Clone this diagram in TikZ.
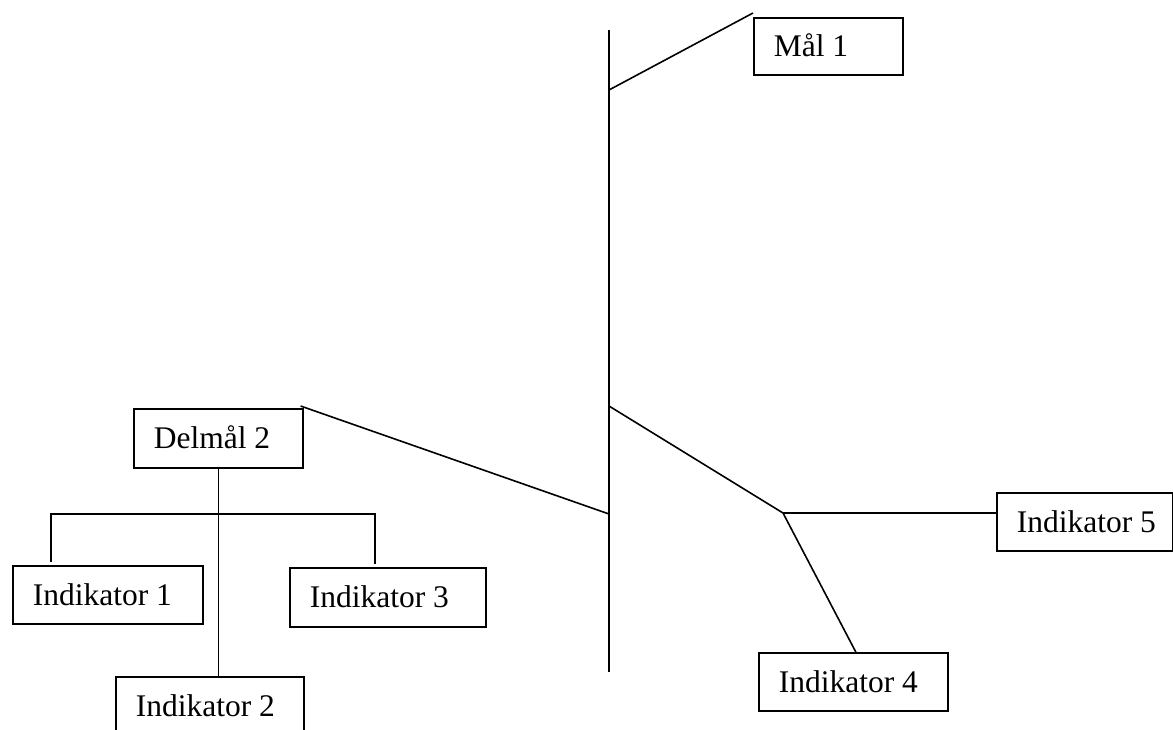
\documentclass[tikz,border=0pt]{standalone}
\usepackage{fontspec}
\setmainfont{Liberation Serif}
% left-set label of a fixed width inside a box
\newcommand\lbltext[2]{\makebox[#1][l]{#2}}
\tikzset{
  lbl/.style={draw, line width=1.6pt, anchor=north west,
    inner xsep=20pt, inner ysep=0pt, text height=21pt, text depth=0pt,
    font=\fontsize{31.5}{36}\selectfont},
  link/.style={line width=1.6pt}
}
\begin{document}
\begin{tikzpicture}[x=1pt,y=-1pt]
\useasboundingbox (0,0) rectangle (1173,729);

% boxes
\node[lbl, minimum height=57pt] (mal)    at (753,17)  {\lbltext{109pt}{Mål 1}};
\node[lbl, minimum height=59pt] (delmal) at (133,408) {\lbltext{129pt}{Delmål 2}};
\node[lbl, minimum height=58pt] (ind1)   at (12,565)  {\lbltext{150pt}{Indikator 1}};
\node[lbl, minimum height=58pt] (ind2)   at (115,676) {\lbltext{148pt}{Indikator 2}};
\node[lbl, minimum height=59pt] (ind3)   at (289,567) {\lbltext{156pt}{Indikator 3}};
\node[lbl, minimum height=58pt] (ind4)   at (758,652) {\lbltext{149pt}{Indikator 4}};
\node[lbl, minimum height=58pt] (ind5)   at (996,492) {\lbltext{136pt}{Indikator 5}};

% spine and branch points
\coordinate (spineTop) at (609,30);
\coordinate (spineBot) at (609,672);
\coordinate (jMal) at (609,90);
\coordinate (jRight) at (609,406);
\coordinate (jDel) at (609,514);
\coordinate (jInd) at (783,513);
\coordinate (barL) at (51,514);
\coordinate (barR) at (375,514);

\draw[link] (spineTop) -- (spineBot);
\draw[link] (jMal) -- ([yshift=4pt]mal.north west);
\draw[link] (jDel) -- ([xshift=-3pt,yshift=2pt]delmal.north east);
\draw[link] (jRight) -- (jInd);
\draw[link] (jInd) -- (jInd -| ind5.west);
\draw[link] (jInd) -- ([xshift=2.5pt]ind4.north);

% Delmål 2 subtree
\draw[link] (delmal.south) -- (delmal.south |- ind2.north);
\draw[link] ([yshift=3pt]ind1.north -| barL) -- (barL) -- (barR) -- ([yshift=3pt]ind3.north -| barR);
\end{tikzpicture}
\end{document}
